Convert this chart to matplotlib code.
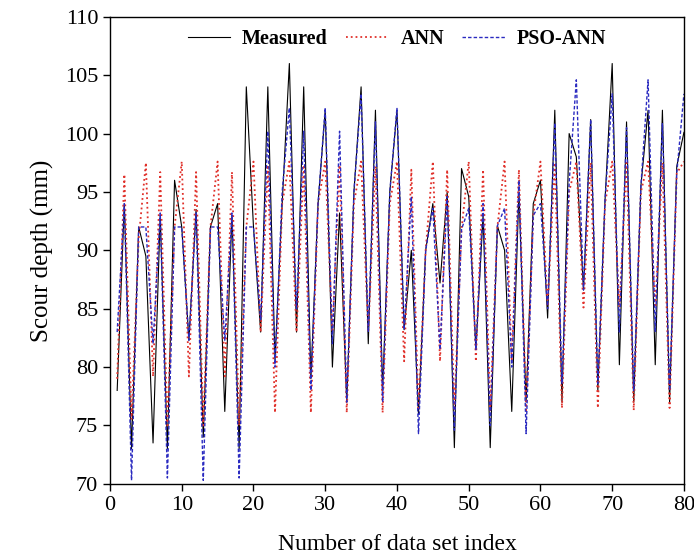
import numpy as np
import matplotlib
matplotlib.use("Agg")
from matplotlib import pyplot as plt

# Data set index 1..80
index = np.arange(1, 81)

measured = [78, 94, 73, 92, 89.5, 73.5, 93, 73, 96, 92,
            82.3, 93.5, 74, 92, 94, 76.2, 93, 73, 104, 92,
            83, 104, 80.6, 94, 106, 83, 104, 79, 94, 102,
            80, 93.2, 77, 95, 104, 82, 102, 78, 95, 102,
            83.2, 90, 76, 90, 94, 87.2, 95, 73.1, 97, 94.6,
            81.5, 93, 73.1, 92.1, 90, 76.2, 95, 77, 94, 96,
            84.2, 102, 77, 100, 98, 86.6, 101.2, 78, 94.3, 106,
            80.2, 101, 77, 95.5, 102, 80.2, 102, 77, 97.2, 100.1]

ann = [79, 96.5, 75.5, 91, 97.5, 79.2, 96.7, 75, 92, 97.6,
       79.2, 96.7, 75, 92, 97.6, 79.2, 96.7, 75, 92, 97.6,
       83, 97.3, 76.1, 94, 97.6, 83, 97.3, 76.1, 94, 97.6,
       83, 97.3, 76.1, 94, 97.6, 83, 97.2, 76.1, 94, 97.6,
       80.5, 96.9, 76.3, 90, 97.6, 80.5, 96.9, 76.3, 91.8, 97.6,
       80.5, 96.9, 76.3, 92, 97.6, 80.5, 96.9, 76.3, 93, 97.6,
       85.2, 97.5, 76.5, 95, 97.6, 85.1, 97.5, 76.5, 94, 97.6,
       85.1, 97.5, 76.3, 95, 97.6, 85.1, 97.5, 76.5, 96.6, 97.6]

pso_ann = [83, 94, 70.3, 92, 92, 82, 93.2, 70.5, 92, 92,
           82.3, 93.2, 70.3, 92, 92, 82.3, 93.2, 70.5, 92, 92,
           84, 100.2, 80, 95, 102.2, 85, 100.2, 78, 94, 102.2,
           82, 100.2, 77, 95, 103.4, 83, 101, 77, 95, 102.2,
           83.2, 94.6, 74.3, 90, 93.6, 81.5, 94.6, 74.6, 91.8, 93.6,
           81.5, 94, 75, 92.1, 93.6, 80, 96, 74.3, 93, 94,
           85, 100.9, 78.6, 95.8, 104.6, 86.6, 101.2, 78.6, 94.3, 103.4,
           83, 100.5, 78, 95.5, 104.6, 83, 100.9, 78, 96.6, 103.4]

plt.rcParams["font.family"] = ["Liberation Serif", "DejaVu Serif"]

fig = plt.figure(figsize=(6.94, 5.6), dpi=100)
ax = fig.add_axes([0.1585, 0.136, 0.827, 0.834])

ax.plot(index, measured, color="black", linewidth=0.8, label="Measured")
ax.plot(index, ann, color="#e0302a", linestyle=":", linewidth=1.3, label="ANN")
ax.plot(index, pso_ann, color="#2a2ac0", linestyle=(0, (2.5, 1.5)), linewidth=1.0, label="PSO-ANN")

ax.set_xlim(0, 80)
ax.set_ylim(70, 110)
ax.set_xticks(np.arange(0, 81, 10))
ax.set_yticks(np.arange(70, 111, 5))
ax.tick_params(direction="out", length=5, width=1, labelsize=16)
for s in ax.spines.values():
    s.set_linewidth(1.0)

ax.set_xlabel("Number of data set index", fontsize=17, labelpad=14)
ax.set_ylabel("Scour depth (mm)", fontsize=18, labelpad=8)

ax.legend(loc="upper center", ncol=3, frameon=False, prop={"weight": "bold", "size": 14.5},
          handlelength=2.1, columnspacing=0.9, handletextpad=0.6, borderaxespad=0.2)

fig.savefig("out.png", dpi=100)
